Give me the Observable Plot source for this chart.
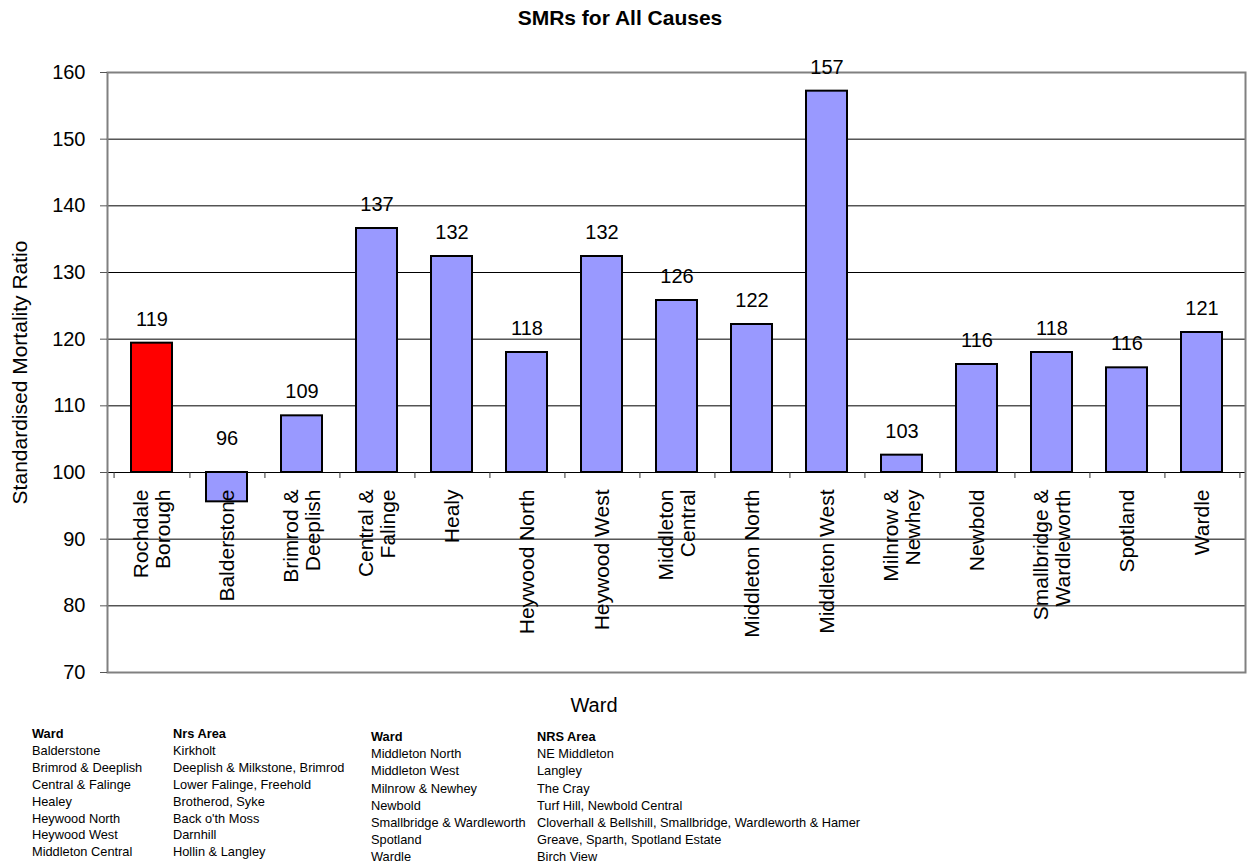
<!DOCTYPE html>
<html>
<head>
<meta charset="utf-8">
<script src="https://cdn.jsdelivr.net/npm/d3@7"></script>
<script src="https://cdn.jsdelivr.net/npm/@observablehq/plot@0.6"></script>
<style>
  html, body { margin: 0; padding: 0; background: #fff; }
  body { font-family: "Liberation Sans", Arial, sans-serif; color: #000; }
  #wrap { position: relative; width: 1250px; height: 866px; overflow: hidden; }
  #chart { position: absolute; left: 0; top: 0; }
  .abs { position: absolute; white-space: nowrap; }
  #title { left: 0; width: 1240px; top: 6px; text-align: center; font-weight: bold; font-size: 21px; }
  #xlabel { left: 494px; width: 200px; top: 694px; text-align: center; font-size: 20px; }
  .tcol { font-size: 12.8px; }
  .tcol div:first-child { font-weight: bold; }
  .b1 { line-height: 16.9px; top: 726px; }
  .b2 { line-height: 17.2px; top: 728px; }
</style>
</head>
<body>
<div id="wrap">
  <div id="chart"></div>
  <div id="title" class="abs"></div>
  <div id="xlabel" class="abs"></div>
  <div id="t1" class="abs tcol b1" style="left:32px"></div>
  <div id="t2" class="abs tcol b1" style="left:173px"></div>
  <div id="t3" class="abs tcol b2" style="left:371px"></div>
  <div id="t4" class="abs tcol b2" style="left:537px"></div>
</div>
<script>
// ---- Data ----
const titleText = "SMRs for All Causes";
const yLabel = "Standardised Mortality Ratio";
const xLabel = "Ward";

const wards = [
  "Rochdale Borough", "Balderstone", "Brimrod & Deeplish", "Central & Falinge",
  "Healy", "Heywood North", "Heywood West", "Middleton Central",
  "Middleton North", "Middleton West", "Milnrow & Newhey", "Newbold",
  "Smallbridge & Wardleworth", "Spotland", "Wardle"
];
const tickLabels = [
  "Rochdale\nBorough", "Balderstone", "Brimrod &\nDeeplish", "Central &\nFalinge",
  "Healy", "Heywood North", "Heywood West", "Middleton\nCentral",
  "Middleton North", "Middleton West", "Milnrow &\nNewhey", "Newbold",
  "Smallbridge &\nWardleworth", "Spotland", "Wardle"
];
const smr = [119.4, 95.6, 108.5, 136.6, 132.4, 118.0, 132.4, 125.8, 122.2, 157.2, 102.6, 116.2, 118.0, 115.7, 121.0];
const valueLabels = ["119", "96", "109", "137", "132", "118", "132", "126", "122", "157", "103", "116", "118", "116", "121"];
const highlight = "Rochdale Borough";
const baseline = 100;
const yTicks = [70, 80, 90, 100, 110, 120, 130, 140, 150, 160];

const tableHead1 = ["Ward", "Nrs Area"];
const tableWards1 = ["Balderstone", "Brimrod & Deeplish", "Central & Falinge", "Healey", "Heywood North", "Heywood West", "Middleton Central"];
const tableAreas1 = ["Kirkholt", "Deeplish & Milkstone, Brimrod", "Lower Falinge, Freehold", "Brotherod, Syke", "Back o'th Moss", "Darnhill", "Hollin & Langley"];
const tableHead2 = ["Ward", "NRS Area"];
const tableWards2 = ["Middleton North", "Middleton West", "Milnrow & Newhey", "Newbold", "Smallbridge & Wardleworth", "Spotland", "Wardle"];
const tableAreas2 = ["NE Middleton", "Langley", "The Cray", "Turf Hill, Newbold Central", "Cloverhall & Bellshill, Smallbridge, Wardleworth & Hamer", "Greave, Sparth, Spotland Estate", "Birch View"];

// ---- Build ----
const data = wards.map((w, i) => ({ward: w, tick: tickLabels[i], smr: smr[i], label: valueLabels[i]}));

const W = 1250, H = 720, mL = 107, mR = 5, mT = 72, mB = 48;
const halfStep = (W - mL - mR) / wards.length / 2;

const chart = Plot.plot({
  width: W, height: H,
  marginLeft: mL, marginRight: mR, marginTop: mT, marginBottom: mB,
  style: {fontFamily: '"Liberation Sans", Arial, sans-serif', background: "white", color: "black"},
  x: {domain: wards, paddingInner: 0.46, paddingOuter: 0.23, axis: null},
  y: {domain: [70, 160], axis: null},
  color: {type: "identity"},
  marks: [
    Plot.ruleY(yTicks.filter(t => t > 70 && t < 160), {stroke: "black", strokeWidth: 1}),
    Plot.barY(data, {
      x: "ward", y1: baseline, y2: "smr",
      fill: d => d.ward === highlight ? "#FF0000" : "#9999FF",
      stroke: "black", strokeWidth: 2
    }),
    Plot.ruleX(wards, {x: d => d, y1: baseline, y2: baseline - 0.9, dx: halfStep, stroke: "#333", strokeWidth: 1}),
    Plot.ruleX(wards.slice(0, 1), {x: d => d, y1: baseline, y2: baseline - 0.9, dx: -halfStep, stroke: "#333", strokeWidth: 1}),
    Plot.frame({stroke: "#808080", strokeWidth: 2}),
    Plot.axisY({ticks: yTicks, tickSize: 7, tickPadding: 15, fontSize: 20, stroke: "#555", label: null, tickFormat: d => String(d)}),
    Plot.text(data.filter(d => d.smr >= baseline), {x: "ward", y: "smr", text: "label", dy: -24, fontSize: 20}),
    Plot.text(data.filter(d => d.smr < baseline), {x: "ward", y: baseline, text: "label", dy: -34, fontSize: 20}),
    Plot.text(data, {x: "ward", y: baseline, text: "tick", rotate: -90, textAnchor: "end", lineAnchor: "middle", lineHeight: 1.05, dy: 17, fontSize: 21}),
    Plot.text([yLabel], {frameAnchor: "left", text: d => d, rotate: -90, textAnchor: "middle", lineAnchor: "middle", dx: -87, fontSize: 21})
  ]
});
document.getElementById("chart").appendChild(chart);

document.getElementById("title").textContent = titleText;
document.getElementById("xlabel").textContent = xLabel;
function fill(id, head, rows) {
  const el = document.getElementById(id);
  [head, ...rows].forEach(t => { const d = document.createElement("div"); d.textContent = t; el.appendChild(d); });
}
fill("t1", tableHead1[0], tableWards1);
fill("t2", tableHead1[1], tableAreas1);
fill("t3", tableHead2[0], tableWards2);
fill("t4", tableHead2[1], tableAreas2);
</script>
</body>
</html>
